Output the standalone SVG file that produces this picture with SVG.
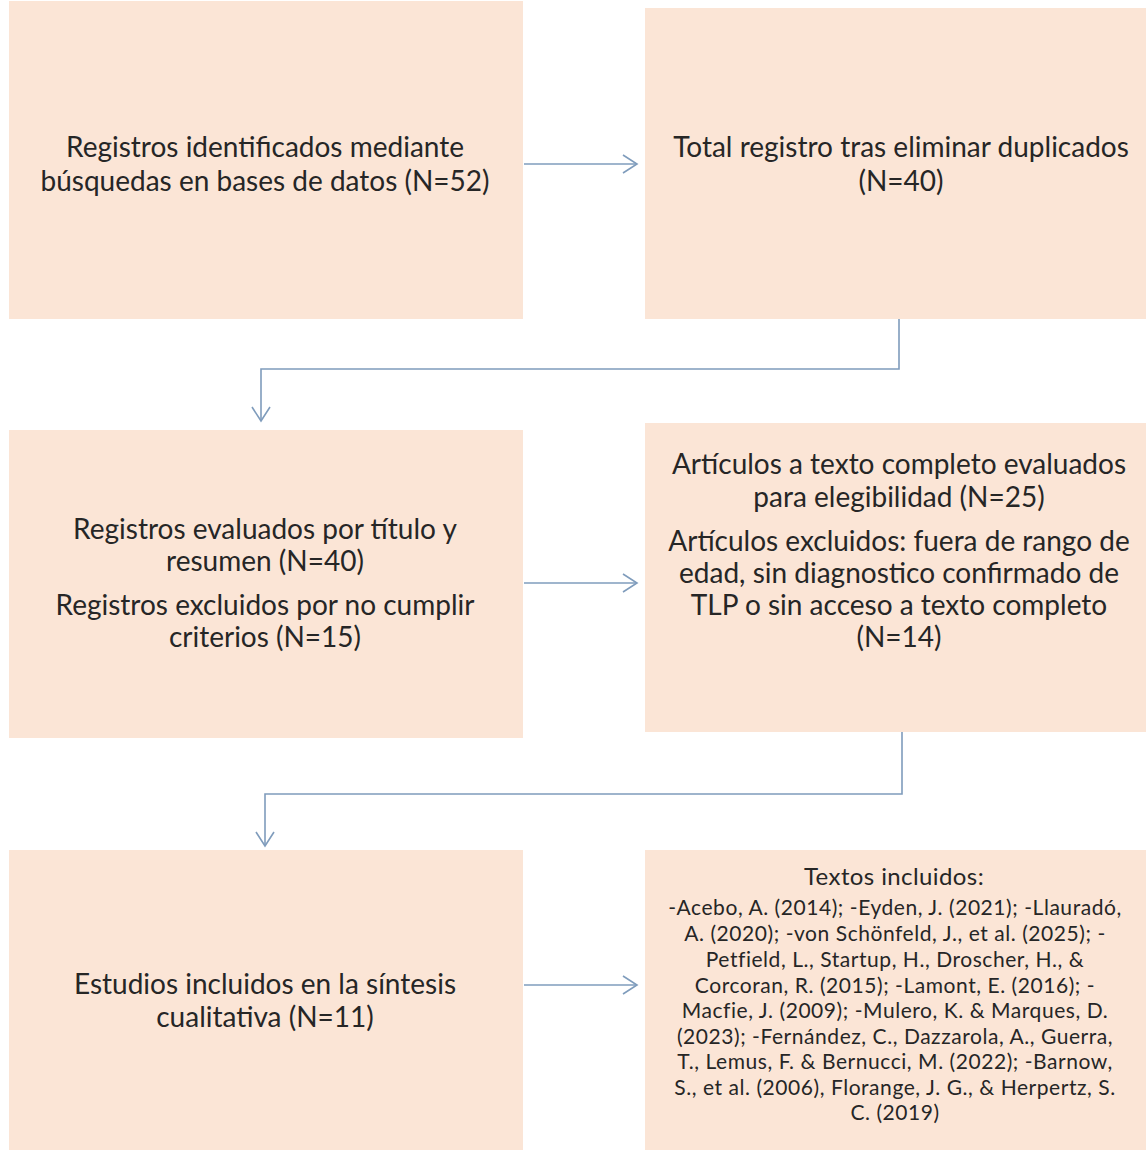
<svg xmlns="http://www.w3.org/2000/svg" width="1146" height="1150" viewBox="0 0 1146 1150">
<defs>
<style>
.box{fill:#FBE5D6;}
.t{font-family:"Lato","Liberation Sans",sans-serif;font-size:28px;fill:#262626;text-anchor:middle;}
.s{font-family:"Lato","Liberation Sans",sans-serif;font-size:21px;letter-spacing:0.55px;fill:#262626;text-anchor:middle;}
.h{font-family:"Lato","Liberation Sans",sans-serif;font-size:24px;letter-spacing:0.4px;fill:#262626;text-anchor:middle;}
.c{fill:none;stroke:#7F9CBC;stroke-width:1.6;}
</style>
<marker id="ah" markerWidth="18" markerHeight="20" refX="15" refY="10" orient="auto" markerUnits="userSpaceOnUse">
<path d="M1,1 L15,10 L1,19" fill="none" stroke="#7F9CBC" stroke-width="1.6"/>
</marker>
</defs>
<rect width="1146" height="1150" fill="#FFFFFF"/>
<g id="n1"><rect class="box" x="9" y="1" width="514" height="318"/>
<text class="t" x="265" y="157">Registros identificados mediante</text>
<text class="t" x="265" y="191">búsquedas en bases de datos (N=52)</text></g>
<g id="n2"><rect class="box" x="645" y="8" width="501" height="311"/>
<text class="t" x="901" y="157">Total registro tras eliminar duplicados</text>
<text class="t" x="901" y="191">(N=40)</text></g>
<g id="n3"><rect class="box" x="9" y="430" width="514" height="308"/>
<text class="t" x="265" y="539">Registros evaluados por título y</text>
<text class="t" x="265" y="571">resumen (N=40)</text>
<text class="t" x="265" y="615">Registros excluidos por no cumplir</text>
<text class="t" x="265" y="647">criterios (N=15)</text></g>
<g id="n4"><rect class="box" x="645" y="423" width="501" height="309"/>
<text class="t" x="899" y="474">Artículos a texto completo evaluados</text>
<text class="t" x="899" y="507">para elegibilidad (N=25)</text>
<text class="t" x="899" y="551">Artículos excluidos: fuera de rango de</text>
<text class="t" x="899" y="583">edad, sin diagnostico confirmado de</text>
<text class="t" x="899" y="615">TLP o sin acceso a texto completo</text>
<text class="t" x="899" y="647">(N=14)</text></g>
<g id="n5"><rect class="box" x="9" y="850" width="514" height="300"/>
<text class="t" x="265" y="994">Estudios incluidos en la síntesis</text>
<text class="t" x="265" y="1027">cualitativa (N=11)</text></g>
<g id="n6"><rect class="box" x="645" y="850" width="501" height="300"/>
<text class="h" x="894" y="885">Textos incluidos:</text>
<text class="s" x="895" y="915">-Acebo, A. (2014); -Eyden, J. (2021); -Llauradó,</text>
<text class="s" x="895" y="941">A. (2020); -von Schönfeld, J., et al. (2025); -</text>
<text class="s" x="895" y="967">Petfield, L., Startup, H., Droscher, H., &amp;</text>
<text class="s" x="895" y="993">Corcoran, R. (2015); -Lamont, E. (2016); -</text>
<text class="s" x="895" y="1018">Macfie, J. (2009); -Mulero, K. &amp; Marques, D.</text>
<text class="s" x="895" y="1044">(2023); -Fernández, C., Dazzarola, A., Guerra,</text>
<text class="s" x="895" y="1069">T., Lemus, F. &amp; Bernucci, M. (2022); -Barnow,</text>
<text class="s" x="895" y="1095">S., et al. (2006), Florange, J. G., &amp; Herpertz, S.</text>
<text class="s" x="895" y="1120">C. (2019)</text></g>
<g id="connectors">
<line class="c" x1="524" y1="164" x2="637" y2="164" marker-end="url(#ah)"/>
<polyline class="c" points="899,319 899,369 261,369 261,421" marker-end="url(#ah)"/>
<line class="c" x1="524" y1="583" x2="637" y2="583" marker-end="url(#ah)"/>
<polyline class="c" points="902,732 902,794 265,794 265,846" marker-end="url(#ah)"/>
<line class="c" x1="524" y1="985" x2="637" y2="985" marker-end="url(#ah)"/>
</g>
</svg>
